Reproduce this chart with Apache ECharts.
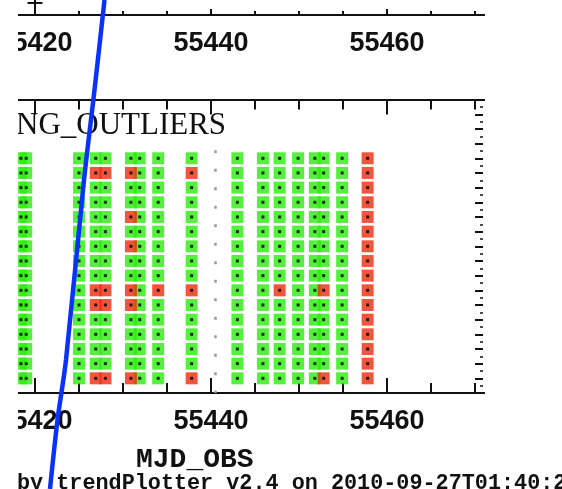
<!DOCTYPE html>
<html>
<head>
<meta charset="utf-8">
<script src="https://cdn.jsdelivr.net/npm/echarts@6/dist/echarts.min.js"></script>
<style>
  html, body { margin: 0; padding: 0; background: #ffffff; }
  #chart { width: 562px; height: 489px; }
</style>
</head>
<body>
<div id="chart"></div>
<script>
// Exposure dates (MJD_OBS), one column of cells per exposure
const mjdObs = [55418.4, 55419.0, 55425.0, 55426.9, 55428.0, 55430.9, 55431.9, 55434.0,
                55437.8, 55443.0, 55445.9, 55447.8, 55449.9, 55451.8, 55452.8, 55454.9, 55457.8];
// Detector rows checked for every exposure
const rowIds = [1, 2, 3, 4, 5, 6, 7, 8, 9, 10, 11, 12, 13, 14, 15, 16];
// Rows flagged as outliers, per exposure (same order as mjdObs)
const flaggedRows = [
  [], [], [],
  [15, 7, 6, 1],
  [15, 7, 6, 1],
  [15, 12, 10, 7, 6, 1],
  [],
  [7],
  [15, 7, 1],
  [], [],
  [7],
  [], [],
  [7, 1],
  [],
  [16, 15, 14, 13, 12, 11, 10, 9, 8, 7, 6, 5, 4, 3, 2, 1]
];
// Reference epoch marked by a dotted vertical line
const markerMjd = 55440.45;
const markerTopRow = 16.55;
// Error bar of the panel above: [mjd, low, cap, high]
const upperPanelBars = [[55420.0, 0, 0.56, 1.2]];
// Tick spacing for the MJD axes
const mjdTickStep = 20;
const mjdMinorSplit = 4;
const mjdRange = [55400, 55480];
// Hand-drawn stroke across the page, in page pixels [x, y]
const penStroke = [[104.5, 0], [94.5, 90], [84.0, 180], [66.0, 360], [57.5, 420], [50.0, 489]];

const GREEN = '#2aec0c';
const RED = '#ef2a0c';
const INK = '#111111';

const okCells = [];
const badCells = [];
const centers = [];
mjdObs.forEach(function (mjd, i) {
  rowIds.forEach(function (row) {
    if (flaggedRows[i].indexOf(row) >= 0) badCells.push([mjd, row]);
    else okCells.push([mjd, row]);
    centers.push([mjd, row]);
  });
});

const labelFont = { fontFamily: 'Liberation Sans', fontSize: 27, fontWeight: 'bold', color: INK };

function mjdAxis(gridIndex, position, opts) {
  return Object.assign({
    type: 'value', gridIndex: gridIndex, position: position,
    min: mjdRange[0], max: mjdRange[1], interval: mjdTickStep,
    axisLine: { show: true, lineStyle: { color: INK, width: 2 } },
    axisTick: { show: true, inside: true, length: 15, lineStyle: { color: INK, width: 2 } },
    minorTick: { show: true, splitNumber: mjdMinorSplit, length: 10, lineStyle: { color: INK, width: 2 } },
    splitLine: { show: false },
    axisLabel: Object.assign({
      show: true, margin: 15, showMaxLabel: false, showMinLabel: false,
      formatter: function (v) { return String(v); }
    }, labelFont)
  }, opts || {});
}

const chart = echarts.init(document.getElementById('chart'), null, { renderer: 'canvas' });

const option = {
  animation: false,
  backgroundColor: '#ffffff',
  title: [
    { text: 'NG_OUTLIERS', left: 11, top: 105,
      textStyle: { fontFamily: 'Liberation Serif', fontSize: 31, fontWeight: 'normal', color: INK } },
    { text: 'MJD_OBS', left: 131, top: 441,
      textStyle: { fontFamily: 'Liberation Mono', fontSize: 28, fontWeight: 'bold', color: INK } },
    { text: 'by trendPlotter v2.4 on 2010-09-27T01:40:21', left: 12, top: 468,
      textStyle: { fontFamily: 'Liberation Mono', fontSize: 21.8, fontWeight: 'bold', color: INK } }
  ],
  grid: [
    // outlier map panel
    { left: -141, top: 99.6, width: 704, height: 293.4, containLabel: false, outerBoundsMode: 'none' },
    // panel above (only its bottom axis is in view)
    { left: -141, top: -200, width: 704, height: 215, containLabel: false, outerBoundsMode: 'none' },
    // page-pixel grid for the pen stroke
    { left: 0, top: 0, width: 562, height: 489, containLabel: false, outerBoundsMode: 'none' },
    // right-hand row axis of the outlier map
    { left: 0, top: 99.6, width: 483, height: 293.4, containLabel: false, outerBoundsMode: 'none' }
  ],
  xAxis: [
    mjdAxis(0, 'bottom'),
    mjdAxis(0, 'top', { axisLabel: { show: false } }),
    mjdAxis(1, 'bottom', {
      axisTick: { show: true, inside: true, length: 6, lineStyle: { color: INK, width: 2 } },
      minorTick: { show: true, splitNumber: mjdMinorSplit, length: 4, lineStyle: { color: INK, width: 2 } }
    }),
    { type: 'value', gridIndex: 2, min: 0, max: 562, show: false },
    { type: 'value', gridIndex: 3, min: 0, max: 1, show: false }
  ],
  yAxis: [
    { type: 'value', gridIndex: 0, min: 0, max: 20, show: false },
    { type: 'value', gridIndex: 1, min: 0, max: 10, show: false },
    { type: 'value', gridIndex: 2, min: 0, max: 489, inverse: true, show: false },
    { type: 'value', gridIndex: 3, position: 'right', min: 0, max: 20, interval: 5,
      axisLine: { show: true, lineStyle: { color: INK, width: 2 } },
      axisTick: { show: true, inside: true, length: 14, lineStyle: { color: INK, width: 2 } },
      axisLabel: { show: false }, splitLine: { show: false } },
    { type: 'value', gridIndex: 3, position: 'right', min: 0, max: 20, interval: 1,
      axisLine: { show: false },
      axisTick: { show: true, inside: true, length: 8, lineStyle: { color: INK, width: 2 } },
      minorTick: { show: true, splitNumber: 2, length: 3, lineStyle: { color: INK, width: 1.5 } },
      axisLabel: { show: false }, splitLine: { show: false } }
  ],
  graphic: [
    { type: 'rect', z: 50, silent: true, shape: { x: 0, y: 0, width: 18, height: 489 },
      style: { fill: '#ffffff' } },
    { type: 'rect', z: 50, silent: true, shape: { x: 485, y: 0, width: 77, height: 440 },
      style: { fill: '#ffffff' } }
  ],
  series: [
    { type: 'scatter', xAxisIndex: 0, yAxisIndex: 0, symbol: 'rect', symbolSize: 12,
      itemStyle: { color: GREEN }, data: okCells, z: 2, silent: true,
      markLine: {
        silent: true, symbol: 'none', label: { show: false },
        lineStyle: { color: '#9a9a9a', width: 2.5, type: [3, 15.5] },
        data: [[{ coord: [markerMjd, markerTopRow] }, { coord: [markerMjd, 0] }]]
      } },
    { type: 'scatter', xAxisIndex: 0, yAxisIndex: 0, symbol: 'rect', symbolSize: 12,
      itemStyle: { color: RED }, data: badCells, z: 3, silent: true },
    { type: 'scatter', xAxisIndex: 0, yAxisIndex: 0, symbol: 'rect', symbolSize: 3,
      itemStyle: { color: '#000000' }, data: centers, z: 4, silent: true },
    { type: 'custom', xAxisIndex: 2, yAxisIndex: 1, data: upperPanelBars, silent: true, z: 4,
      renderItem: function (params, api) {
        const x = api.value(0);
        const lo = api.coord([x, api.value(1)]);
        const cap = api.coord([x, api.value(2)]);
        const hi = api.coord([x, api.value(3)]);
        const st = { stroke: INK, lineWidth: 2 };
        return { type: 'group', children: [
          { type: 'line', shape: { x1: lo[0], y1: lo[1], x2: hi[0], y2: hi[1] }, style: st },
          { type: 'line', shape: { x1: cap[0] - 7.5, y1: cap[1], x2: cap[0] + 7.5, y2: cap[1] }, style: st }
        ] };
      } },
    { type: 'line', xAxisIndex: 3, yAxisIndex: 2, data: penStroke, symbol: 'none',
      smooth: 0.3, z: 100, silent: true,
      lineStyle: { color: '#0a32ff', width: 4.5 } }
  ]
};

chart.setOption(option);
</script>
</body>
</html>
